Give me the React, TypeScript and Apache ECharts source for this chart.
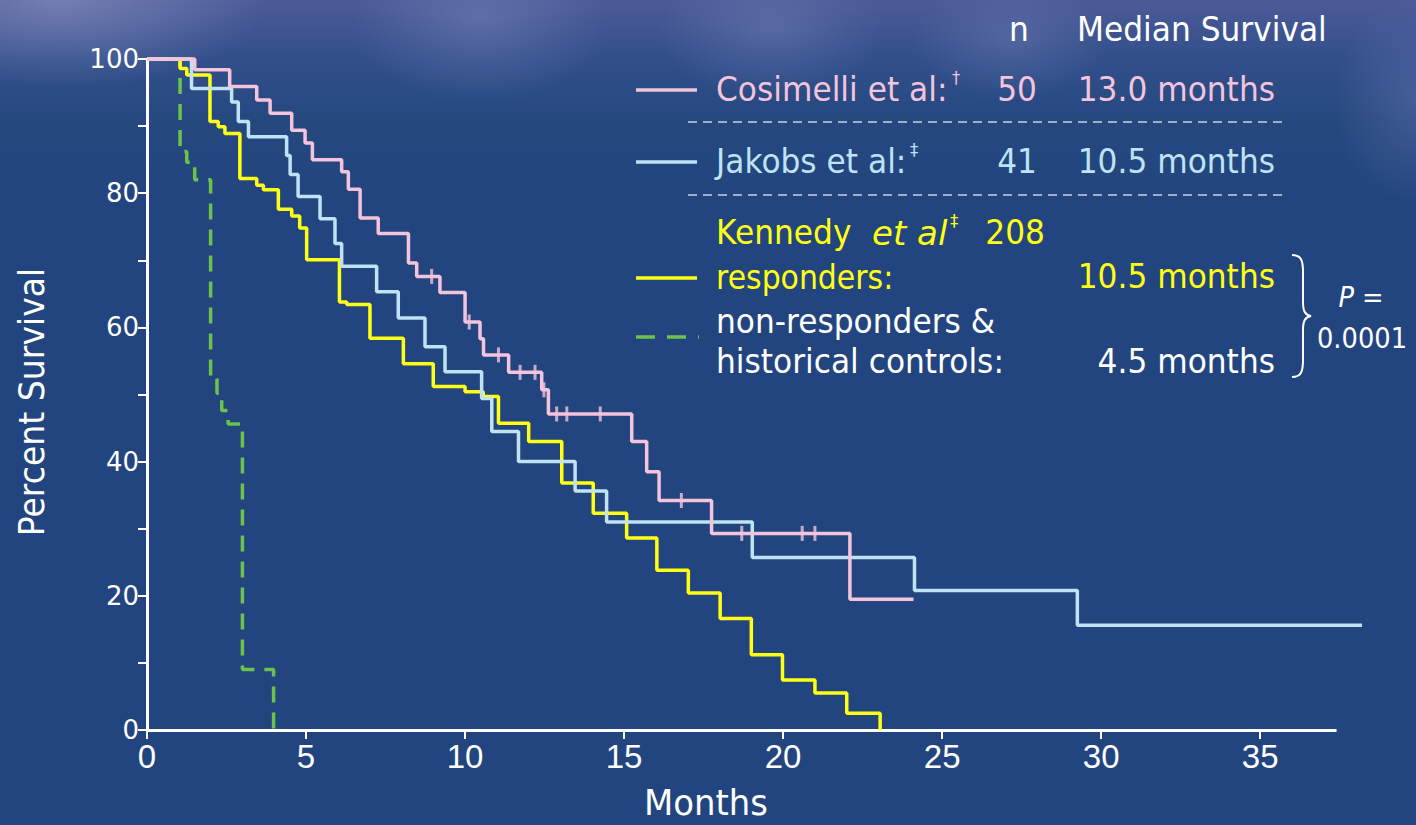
import React, { useEffect, useRef } from "react";
import * as echarts from "echarts";

// ---------- data ----------
const xTickValues = [0, 5, 10, 15, 20, 25, 30, 35];
const yTickValues = [0, 10, 20, 30, 40, 50, 60, 70, 80, 90, 100];
const yLabelValues = [0, 20, 40, 60, 80, 100];
const xAxisLineEnd = 37.4; // months where the drawn axis line stops

// Kaplan-Meier steps: [month, survival % after the drop]
const cosimelli: [number, number][] = [
  [0, 100], [1.5, 98.4], [2.6, 95.9], [3.45, 93.9], [3.87, 91.9], [4.55, 89.4],
  [4.97, 87.5], [5.2, 85.0], [6.12, 83.2], [6.33, 80.6], [6.7, 76.3], [7.27, 74.0],
  [8.22, 69.6], [8.48, 67.6], [9.21, 65.2], [10.0, 60.8], [10.47, 58.3], [10.58, 55.9],
  [11.37, 53.3], [12.41, 50.7], [12.62, 47.1], [15.24, 43.0], [15.71, 38.5],
  [16.1, 34.2], [17.75, 29.3], [22.1, 19.5], [24.1, 19.5],
];
const cosimelliCensored: [number, number][] = [
  [8.95, 67.6], [10.13, 60.8], [11.05, 55.9], [11.73, 53.3], [12.2, 53.3],
  [12.48, 50.7], [12.88, 47.1], [13.2, 47.1], [14.25, 47.1], [16.8, 34.2],
  [18.7, 29.3], [20.6, 29.3], [21.0, 29.3],
];
const jakobs: [number, number][] = [
  [0, 100], [1.4, 95.6], [2.66, 93.6], [2.87, 90.7], [3.19, 88.4], [4.39, 85.6],
  [4.5, 82.8], [4.75, 79.5], [5.44, 76.2], [5.91, 72.5], [6.12, 69.1], [7.22, 65.3],
  [7.9, 61.4], [8.74, 57.1], [9.37, 53.4], [10.52, 49.4], [10.84, 44.5], [11.68, 40.0],
  [13.46, 35.6], [14.45, 31.0], [19.03, 25.7], [24.13, 20.8], [29.25, 15.6], [38.2, 15.6],
];
const kennedyResponders: [number, number][] = [
  [0, 100], [1.04, 98.6], [1.25, 97.6], [1.98, 90.7], [2.24, 89.9], [2.45, 88.9],
  [2.92, 82.2], [3.45, 81.2], [3.66, 80.5], [4.13, 77.6], [4.55, 76.6], [4.8, 74.8],
  [5.02, 70.1], [6.05, 63.8], [6.28, 63.4], [7.01, 58.4], [8.06, 54.6], [9.0, 51.2],
  [10.0, 50.4], [10.57, 49.7], [11.05, 45.7], [12.0, 43.0], [13.04, 36.8], [14.03, 32.3],
  [15.08, 28.6], [16.03, 23.8], [17.02, 20.4], [18.02, 16.6], [19.0, 11.2], [19.98, 7.45],
  [21.0, 5.5], [22.0, 2.5], [23.05, 0],
];
const kennedyNonResponders: [number, number][] = [
  [0, 100], [1.04, 86.2], [1.25, 84.6], [1.5, 82.0], [2.0, 52.3], [2.2, 50.2],
  [2.35, 47.6], [2.55, 45.6], [3.0, 9.0], [3.98, 0],
];

// ---------- style ----------
const PINK = "#f3c4dc";
const BLUE = "#bfe2f5";
const YELLOW = "#ffff14";
const GREEN = "#6cc24a";
const WHITE = "#ffffff";
const FONT = '"DejaVu Sans", Verdana, sans-serif';
const SX = 0.92;

echarts.graphic.registerShape(
  "brace",
  echarts.graphic.extendPath(
    "M0,0 C9,0 11,5 11,17 L11,47 C11,56 13,60 19,61 C13,62 11,66 11,75 L11,105 C11,117 9,122 0,122",
    {}
  )
);

function txt(text: string, x: number, y: number, fill: string, opt: any = {}) {
  return {
    type: "text",
    x,
    y,
    scaleX: opt.scaleX ?? SX,
    rotation: opt.rotation ?? 0,
    style: {
      text,
      fill,
      fontSize: opt.fontSize ?? 34,
      fontFamily: FONT,
      fontStyle: opt.italic ? "italic" : "normal",
      align: opt.align ?? "left",
      verticalAlign: "middle",
    },
    z: 100,
  };
}

function seg(x1: number, y1: number, x2: number, y2: number, stroke: string, w: number, dash?: number[]) {
  return {
    type: "line",
    shape: { x1, y1, x2, y2 },
    style: { stroke, lineWidth: w, lineDash: dash },
    z: 100,
  };
}

export default function App() {
  const ref = useRef<HTMLDivElement>(null);
  useEffect(() => {
    if (!ref.current) return;
    const chart = echarts.init(ref.current, undefined, { renderer: "svg" });
    const lineSeries = (name: string, data: [number, number][], color: string, dash?: number[]) => ({
      name,
      type: "line",
      step: "end",
      data,
      showSymbol: false,
      clip: false,
      lineStyle: { color, width: 3.5, type: dash ?? "solid" },
      itemStyle: { color },
      z: 5,
    });
    chart.setOption({
      animation: false,
      backgroundColor: "transparent",
      grid: { left: 147, right: 54, top: 59, bottom: 95, containLabel: false },
      xAxis: {
        type: "value",
        min: 0,
        max: 38.2,
        interval: 5,
        splitLine: { show: false },
        axisLine: { show: false },
        axisTick: { customValues: xTickValues, length: 9, lineStyle: { color: WHITE, width: 2 } },
        axisLabel: {
          customValues: xTickValues,
          color: WHITE,
          fontSize: 33,
          fontFamily: '"Liberation Sans", Arial, sans-serif',
          margin: 10,
        },
      },
      yAxis: {
        type: "value",
        min: 0,
        max: 100,
        interval: 10,
        splitLine: { show: false },
        axisLine: { lineStyle: { color: WHITE, width: 3 } },
        axisTick: { customValues: yTickValues, length: 9, lineStyle: { color: WHITE, width: 2 } },
        axisLabel: {
          customValues: yLabelValues,
          color: WHITE,
          fontSize: 26,
          fontFamily: FONT,
          margin: 8,
        },
      },
      series: [
        {
          ...lineSeries("Kennedy non-responders & historical controls", kennedyNonResponders, GREEN, [16, 10]),
          markLine: {
            silent: true,
            symbol: "none",
            label: { show: false },
            lineStyle: { color: WHITE, width: 3, type: "solid" },
            data: [[{ coord: [0, 0] }, { coord: [xAxisLineEnd, 0] }]],
            z: 1,
          },
        },
        lineSeries("Kennedy responders", kennedyResponders, YELLOW),
        lineSeries("Jakobs et al", jakobs, BLUE),
        lineSeries("Cosimelli et al", cosimelli, PINK),
        {
          name: "Cosimelli censored",
          type: "scatter",
          data: cosimelliCensored,
          symbol: "rect",
          symbolSize: [3, 15],
          itemStyle: { color: PINK },
          z: 6,
        },
      ],
      graphic: [
        // axis titles
        txt("Percent Survival", 32, 402, WHITE, { rotation: Math.PI / 2, align: "center", fontSize: 36 }),
        txt("Months", 706, 803, WHITE, { align: "center", fontSize: 35, scaleX: 0.97 }),
        // header
        txt("n", 1019, 30, WHITE, { align: "center" }),
        txt("Median Survival", 1077, 30, WHITE),
        // row 1
        seg(636, 90, 697, 90, PINK, 3.5),
        txt("Cosimelli et al:", 716, 90, PINK),
        txt("†", 952, 78, PINK, { fontSize: 18 }),
        txt("50", 1037, 90, PINK, { align: "right" }),
        txt("13.0 months", 1275, 90, PINK, { align: "right" }),
        seg(688, 122, 1287, 122, "#c9d0e2", 1.5, [9, 6]),
        // row 2
        seg(636, 162, 697, 162, BLUE, 3.5),
        txt("Jakobs et al:", 716, 162, BLUE),
        txt("‡", 910, 150, BLUE, { fontSize: 18 }),
        txt("41", 1037, 162, BLUE, { align: "right" }),
        txt("10.5 months", 1275, 162, BLUE, { align: "right" }),
        seg(688, 195, 1287, 195, "#c9d0e2", 1.5, [9, 6]),
        // row 3
        txt("Kennedy", 716, 233, YELLOW),
        txt("et al", 872, 233, YELLOW, { italic: true, scaleX: 1.0 }),
        txt("‡", 950, 221, YELLOW, { fontSize: 18 }),
        txt("208", 1045, 233, YELLOW, { align: "right" }),
        // row 4
        seg(636, 278, 697, 278, YELLOW, 3.5),
        txt("responders:", 716, 277, YELLOW, { scaleX: 0.88 }),
        txt("10.5 months", 1275, 277, YELLOW, { align: "right" }),
        // row 5
        seg(636, 337, 699, 337, GREEN, 3.5, [19, 12]),
        txt("non-responders &", 716, 322, WHITE),
        txt("historical controls:", 716, 362, WHITE),
        txt("4.5 months", 1275, 362, WHITE, { align: "right" }),
        // brace + p-value
        {
          type: "brace",
          x: 1292,
          y: 255,
          style: { stroke: WHITE, fill: "none", lineWidth: 2 },
          z: 100,
        },
        txt("P", 1354, 297, WHITE, { italic: true, fontSize: 28, align: "right" }),
        txt("=", 1362, 297, WHITE, { fontSize: 28 }),
        txt("0.0001", 1362, 338, WHITE, { fontSize: 28, align: "center" }),
      ],
    });
    return () => chart.dispose();
  }, []);

  const bg = [
    "radial-gradient(ellipse 170px 110px at 480px 20px, rgba(140,150,200,0.35), rgba(140,150,200,0) 75%)",
    "radial-gradient(ellipse 150px 90px at 770px 30px, rgba(140,150,200,0.30), rgba(140,150,200,0) 75%)",
    "radial-gradient(ellipse 130px 80px at 1010px 40px, rgba(140,150,200,0.28), rgba(140,150,200,0) 75%)",
    "radial-gradient(ellipse 110px 140px at 1416px 100px, rgba(120,130,190,0.35), rgba(120,130,190,0) 75%)",
    "radial-gradient(ellipse 260px 110px at 60px 0px, rgba(150,155,200,0.55), rgba(150,155,200,0) 80%)",
    "linear-gradient(180deg, #4c5b98 0px, #33508c 55px, #25487f 120px, #22457f 200px, #22457f 825px)",
  ].join(", ");

  return (
    <div
      ref={ref}
      style={{ position: "fixed", left: 0, top: 0, width: 1416, height: 825, background: bg }}
    />
  );
}
